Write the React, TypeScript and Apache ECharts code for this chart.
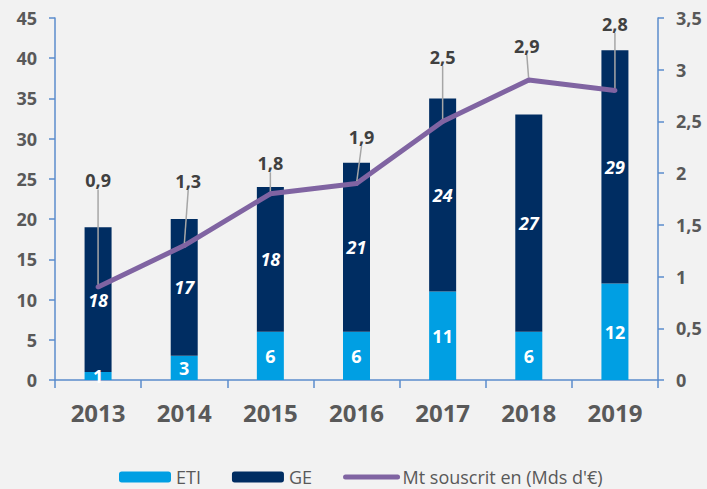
import React, { useEffect, useRef } from "react";
import * as echarts from "echarts";

const years = ["2013", "2014", "2015", "2016", "2017", "2018", "2019"];
const etiValues = [1, 3, 6, 6, 11, 6, 12];
const geValues = [18, 17, 18, 21, 24, 27, 29];
const amountValues = [0.9, 1.3, 1.8, 1.9, 2.5, 2.9, 2.8];
const seriesNames = ["ETI", "GE", "Mt souscrit en (Mds d'€)"];

// vertical lift of each line label (style, not data)
const labelLift = [-90, -48, -14, -30, -48, -18, -50];
const labelShift = [0, 4, 0, 5, 0, -2, 0];

const FONT = "'Open Sans', 'Noto Sans', sans-serif";
const fr = (v: number) => String(v).replace(".", ",");

export default function App() {
  const ref = useRef<HTMLDivElement>(null);
  useEffect(() => {
    if (!ref.current) return;
    const chart = echarts.init(ref.current, undefined, { renderer: "svg" });
    const axisColor = "#5b8ccc";
    chart.setOption({
      animation: false,
      backgroundColor: "#f2f2f2",
      textStyle: { fontFamily: FONT },
      grid: { left: 55, right: 49, top: 18, bottom: 109, containLabel: false },
      legend: {
        left: 119,
        top: 468,
        padding: 0,
        itemWidth: 52,
        itemHeight: 11,
        itemGap: 31,
        textStyle: { fontSize: 18, color: "#595959", fontFamily: FONT },
        data: [
          seriesNames[0],
          seriesNames[1],
          {
            name: seriesNames[2],
            itemStyle: { opacity: 0 },
            lineStyle: { width: 5, cap: "round", color: "#8064a2" },
          },
        ],
      },
      xAxis: {
        type: "category",
        data: years,
        axisLine: { lineStyle: { color: axisColor, width: 1.5 } },
        axisTick: { show: true, length: 8, lineStyle: { color: axisColor, width: 1.5 } },
        axisLabel: { fontSize: 24, fontWeight: "bold", color: "#595959", margin: 20, fontFamily: FONT },
      },
      yAxis: [
        {
          type: "value",
          min: 0,
          max: 45,
          interval: 5,
          splitLine: { show: false },
          axisLine: { show: true, lineStyle: { color: axisColor, width: 1.5 } },
          axisTick: { show: true, length: 6, lineStyle: { color: axisColor, width: 1.5 } },
          axisLabel: { fontSize: 18, fontWeight: "bold", color: "#595959", margin: 18, fontFamily: FONT },
        },
        {
          type: "value",
          min: 0,
          max: 3.5,
          interval: 0.5,
          position: "right",
          splitLine: { show: false },
          axisLine: { show: true, lineStyle: { color: axisColor, width: 1.5 } },
          axisTick: { show: true, length: 6, lineStyle: { color: axisColor, width: 1.5 } },
          axisLabel: {
            fontSize: 18,
            fontWeight: "bold",
            color: "#595959",
            margin: 18,
            fontFamily: FONT,
            formatter: (v: number) => fr(v),
          },
        },
      ],
      series: [
        {
          name: seriesNames[0],
          type: "bar",
          stack: "total",
          data: etiValues,
          barWidth: 27,
          itemStyle: { color: "#009fe3" },
          label: {
            show: true,
            position: "inside",
            color: "#ffffff",
            fontSize: 18,
            fontWeight: "bold",
            fontFamily: FONT,
          },
        },
        {
          name: seriesNames[1],
          type: "bar",
          stack: "total",
          data: geValues,
          barWidth: 27,
          itemStyle: { color: "#002d62" },
          label: {
            show: true,
            position: "inside",
            color: "#ffffff",
            fontSize: 18,
            fontWeight: "bold",
            fontStyle: "italic",
            fontFamily: FONT,
          },
        },
        {
          name: seriesNames[2],
          type: "line",
          yAxisIndex: 1,
          data: amountValues,
          symbol: "circle",
          symbolSize: 5,
          itemStyle: { color: "#8064a2" },
          lineStyle: { color: "#8064a2", width: 5 },
          z: 5,
          label: {
            show: true,
            position: "top",
            distance: 5,
            color: "#404040",
            fontSize: 18,
            fontWeight: "bold",
            fontFamily: FONT,
            formatter: (p: any) => fr(p.value),
          },
          labelLine: { show: true, lineStyle: { color: "#a6a6a6", width: 1.5 } },
          labelLayout: (p: any) => ({ dy: labelLift[p.dataIndex], dx: labelShift[p.dataIndex] }),
        },
      ],
    });
    return () => chart.dispose();
  }, []);
  return (
    <div
      ref={ref}
      style={{ position: "absolute", left: 0, top: 0, width: 707, height: 489 }}
    />
  );
}
